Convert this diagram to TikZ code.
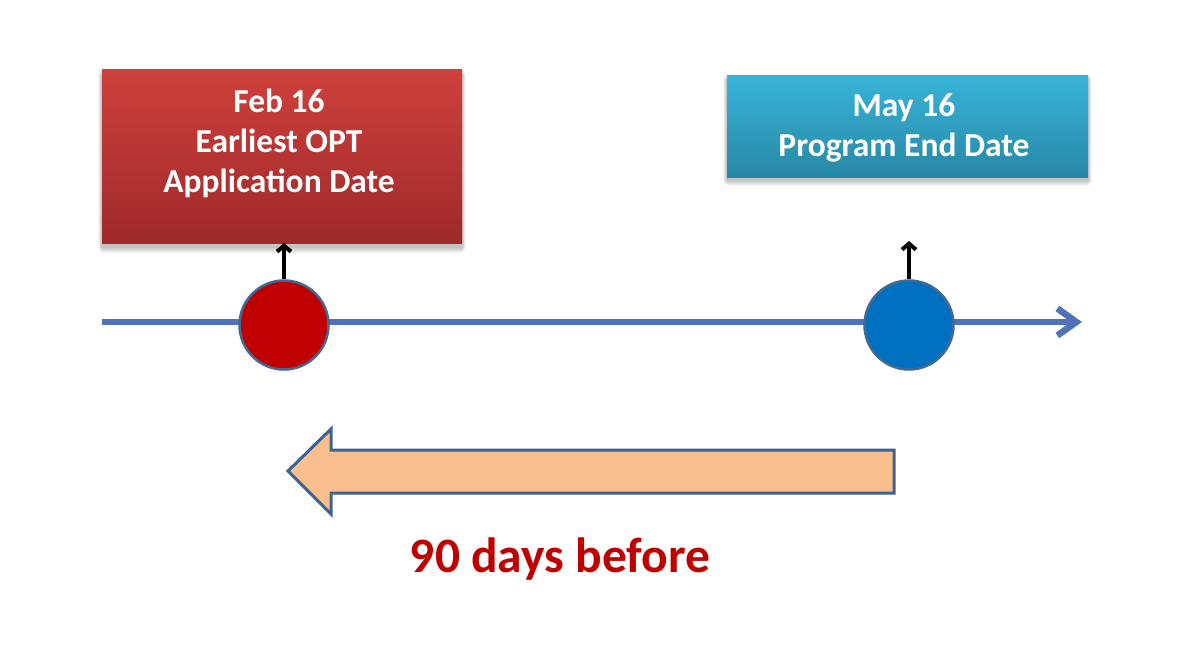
\documentclass[tikz,border=0pt]{standalone}
\usepackage{fontspec}
\setmainfont{Carlito}
\usetikzlibrary{arrows.meta}
\definecolor{redtop}{RGB}{206,64,60}
\definecolor{redbot}{RGB}{158,42,42}
\definecolor{bluetop}{RGB}{56,180,216}
\definecolor{bluebot}{RGB}{40,136,166}
\definecolor{lineblue}{RGB}{79,114,184}
\definecolor{rim}{RGB}{65,105,150}
\definecolor{darkred}{RGB}{192,0,0}
\definecolor{dotblue}{RGB}{0,112,192}
\definecolor{peach}{RGB}{249,191,143}
\definecolor{arrowrim}{RGB}{62,99,144}
\tikzset{
  x=1pt, y=-1pt,
  datebox/.style={rectangle, draw=none, inner sep=0pt},
  boxtxt/.style={anchor=base, text=white, inner sep=0pt, font=\fontsize{33.5}{40}\selectfont\bfseries},
  dot/.style={circle, minimum size=89pt, inner sep=0pt, draw=rim, line width=2.5pt},
  pointer/.style={line width=4.5pt, -{Straight Barb[length=6pt,width=14pt,line width=4pt]}},
  shadowlayer/.style={fill=black, opacity=0.045},
}
\begin{document}
\begin{tikzpicture}
\useasboundingbox (0,0) rectangle (1178,653);
% soft shadows
\foreach \k in {1,2,3,4,5,6}{
  \fill[shadowlayer, rounded corners=\k pt] (102-0.6*\k,70+5-\k) rectangle (462+0.6*\k,244+3+\k);
  \fill[shadowlayer, rounded corners=\k pt] (727-0.6*\k,75+5-\k) rectangle (1088+0.6*\k,177+3+\k);
}
% boxes
\node[datebox, top color=redtop, bottom color=redbot, minimum width=360pt, minimum height=174pt] (rbox) at (282,156.5) {};
\node[datebox, top color=bluetop, bottom color=bluebot, minimum width=361pt, minimum height=102pt] (bbox) at (907.5,126) {};
\node[boxtxt] (r1) at (279,112) {Feb 16};
\node[boxtxt] (r2) at (279,152) {Earliest OPT};
\node[boxtxt] (r3) at (279,192) {Application Date};
\node[boxtxt] (b1) at (904,116) {May 16};
\node[boxtxt] (b2) at (904,156) {Program End Date};
% timeline
\coordinate (tstart) at (102,322);
\coordinate (tend) at (1082,322);
\draw[lineblue, line width=6.5pt, -{Straight Barb[length=19pt,width=27pt,line width=6.5pt]}] (tstart) -- (tend);
% dots
\node[dot, fill=darkred] (rdot) at (284,325) {};
\node[dot, fill=dotblue] (bdot) at (909,325) {};
\coordinate (rtip) at (284,243);
\coordinate (btip) at (909,241);
\draw[pointer] (rdot.north) -- (rtip);
\draw[pointer] (bdot.north) -- (btip);
% big arrow
\draw[fill=peach, draw=arrowrim, line width=3pt, line join=miter]
  (894,450) -- (331,450) -- (331,429) -- (288,471) -- (331,514) -- (331,493) -- (894,493) -- cycle;
\node[anchor=base, text=darkred, inner sep=0pt, font=\fontsize{49.5}{58}\selectfont\bfseries] (lbl) at (560,572) {90 days before};
\end{tikzpicture}
\end{document}
